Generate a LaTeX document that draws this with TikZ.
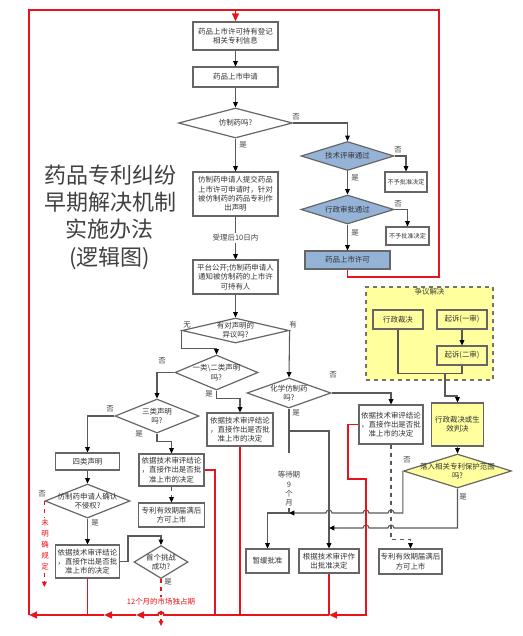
\documentclass[tikz,border=0pt]{standalone}
\usepackage{fontspec}
\setmainfont{Noto Sans CJK SC}
\usetikzlibrary{shapes.geometric,arrows.meta}
\definecolor{blueF}{HTML}{95B3D7}
\definecolor{yelF}{HTML}{FFFF9E}
\definecolor{redL}{HTML}{E8141C}

\begin{document}
\begin{tikzpicture}[x=0.75pt, y=-0.75pt,
  every node/.style={font=\fontsize{5.6}{7}\selectfont, text=black!80},
  sz/.style 2 args={minimum width=#1*0.75pt, minimum height=#2*0.75pt},
  box/.style={draw=black!60, line width=0.9pt, fill=white, align=center, inner sep=0pt},
  smallbox/.style={box, font=\fontsize{4.6}{6}\selectfont},
  bluebox/.style={box, fill=blueF},
  ybox/.style={box, fill=yelF},
  region/.style={draw=black!55, line width=0.9pt, dashed, fill=yelF},
  dia/.style={diamond, draw=black!60, line width=0.9pt, fill=white, inner sep=0pt},
  bluedia/.style={dia, fill=blueF},
  ydia/.style={dia, fill=yelF},
  txt/.style={align=center, inner sep=0pt},
  lab/.style={inner sep=1pt, text=black!75},
  link/.style={draw=black!65, line width=0.8pt},
  arr/.style={link, -{Triangle[length=4pt, width=3.6pt, black]}},
  dasharr/.style={arr, dashed},
  redline/.style={draw=redL, line width=1.4pt},
  redarr/.style={redline, -{Triangle[length=6pt, width=5pt]}},
  reddash/.style={draw=redL, line width=1pt, dashed, -{Triangle[length=4pt, width=3.6pt]}},
  redlab/.style={lab, text=redL, fill=white, align=center}]
  \useasboundingbox (0,0) rectangle (523,636);

  % title
  \node[font=\fontsize{16.5}{20.5}\selectfont, align=center, text=black!75] (title) at (110,217)
    {药品专利纠纷\\早期解决机制\\实施办法\\(逻辑图)};

  % main column
  \node[box, sz={85}{28}] (reg) at (235.5,36) {药品上市许可持有登记\\相关专利信息};
  \node[box, sz={85}{20}] (apply) at (235.5,77) {药品上市申请};
  \node[dia, sz={114}{30}] (generic) at (235.5,123) {};
  \node[txt] (genericT) at (generic) {仿制药吗?};
  \node[box, sz={85}{44}] (declare) at (235.5,194) {仿制药申请人提交药品\\上市许可申请时，针对\\被仿制药的药品专利作\\出声明};
  \node[box, sz={85}{34}] (publish) at (235.5,277) {平台公开;仿制药申请人\\通知被仿制药的上市许\\可持有人};
  \node[dia, sz={107}{25}] (object) at (235.5,330.5) {};
  \node[txt] (objectT) at (object) {有对声明的\\异议吗?};

  % new drug branch
  \node[bluedia, sz={93}{29}] (tech) at (347.5,156) {};
  \node[txt] (techT) at (tech) {技术评审通过};
  \node[smallbox, sz={42}{20}] (rej1) at (406,182) {不予批准决定};
  \node[bluedia, sz={93}{29}] (admin) at (347.5,209.5) {};
  \node[txt] (adminT) at (admin) {行政审批通过};
  \node[smallbox, sz={43}{18}] (rej2) at (407.5,236) {不予批准决定};
  \node[bluebox, sz={85}{18}] (approve) at (347.5,260) {药品上市许可};

  % declarations
  \node[dia, sz={83}{35}] (cls12) at (216.5,372.5) {};
  \node[txt] (cls12T) at (cls12) {一类\textbackslash 二类声明\\吗?};
  \node[dia, sz={84}{34}] (cls3) at (157,416) {};
  \node[txt] (cls3T) at (cls3) {三类声明\\吗?};
  \node[dia, sz={84}{30}] (chem) at (289,393) {};
  \node[txt] (chemT) at (chem) {化学仿制药\\吗?};
  \node[box, sz={64}{17}] (cls4) at (87.5,461.5) {四类声明};
  \node[box, sz={66}{33}] (rev1) at (240,429.5) {依据技术审评结论\\，直接作出是否批\\准上市的决定};
  \node[box, sz={65}{32}] (rev2) at (171.5,470) {依据技术审评结论\\，直接作出是否批\\准上市的决定};
  \node[box, sz={64}{39}] (rev3) at (391,424.5) {依据技术审评结论\\，直接作出是否批\\准上市的决定};
  \node[box, sz={66}{24}] (expire1) at (171.5,515) {专利有效期届满后\\方可上市};
  \node[dia, sz={85}{34}] (confirm) at (87.5,501) {};
  \node[txt] (confirmT) at (confirm) {仿制药申请人确认\\不侵权?};
  \node[box, sz={64}{33}] (rev4) at (87.5,561.5) {依据技术审评结论\\，直接作出是否批\\准上市的决定};
  \node[dia, sz={54}{33}] (first) at (161,562) {};
  \node[txt] (firstT) at (first) {首个挑战\\成功?};
  \node[box, sz={43}{24}] (suspend) at (267.5,561) {暂缓批准};
  \node[box, sz={60}{24}] (grant) at (329,561) {根据技术审评作\\出批准决定};
  \node[box, sz={63}{25}] (expire2) at (410.5,561.5) {专利有效期届满后\\方可上市};

  % dispute settlement
  \node[region, sz={127}{93}] (dispute) at (429.5,333.5) {};
  \node[lab, anchor=north] (disputeT) at (dispute.north) {争议解决};
  \node[ybox, sz={50}{19}] (adjud) at (398,319.5) {行政裁决};
  \node[ybox, sz={50}{19}] (suit1) at (462,319.5) {起诉(一审)};
  \node[ybox, sz={50}{19}] (suit2) at (462,355.5) {起诉(二审)};
  \node[ybox, sz={52}{43}] (ruling) at (457.5,424.5) {行政裁决或生\\效判决};
  \node[ydia, sz={108}{34}] (scope) at (457.5,471) {};
  \node[txt] (scopeT) at (scope) {落入相关专利保护范围\\吗?};

  % yes / no
  \node[lab] (noGeneric) at (296,117) {否};
  \node[lab] (yesGeneric) at (243,145) {是};
  \node[lab] (noTech) at (398,150) {否};
  \node[lab] (yesTech) at (355,178) {是};
  \node[lab] (noAdmin) at (398,204) {否};
  \node[lab] (yesAdmin) at (355,233) {是};
  \node[lab] (none) at (187,325) {无};
  \node[lab] (some) at (293,325) {有};
  \node[lab] (noCls12) at (162,361) {否};
  \node[lab] (yesCls12) at (209,394) {是};
  \node[lab] (noChem) at (333,375) {否};
  \node[lab] (yesChem) at (296,413) {是};
  \node[lab] (noCls3) at (110,409) {否};
  \node[lab] (yesCls3) at (139,434) {是};
  \node[lab] (noScope) at (407,460) {否};
  \node[lab] (yesScope) at (463,497) {是};
  \node[lab] (noConfirm) at (42,494) {否};
  \node[lab] (yesConfirm) at (95,523) {是};
  \node[lab] (yesFirst) at (168,582) {是};

  \coordinate (split) at (289,431);
  \coordinate (join) at (289,513);
  \coordinate (join2) at (329,528);
  \coordinate (merge) at (445,373);
  \coordinate (bend1) at (128,536);
  \coordinate (rbend) at (366,479);
  \coordinate (tl) at (29,10);
  \coordinate (tr) at (439,10);
  \coordinate (bl) at (29,615);
  \coordinate (bus1) at (136,615);
  \coordinate (bus2) at (104,615);

  % gray connectors
  \draw[arr] (reg) -- (apply);
  \draw[arr] (apply) -- (generic);
  \draw[arr] (generic.east) -| (tech.north);
  \draw[arr] (tech) -- (admin);
  \draw[arr] (tech.east) -| (rej1.north);
  \draw[arr] (admin) -- (approve);
  \draw[arr] (admin.east) -| (rej2.north);
  \draw[arr] (generic) -- (declare);
  \draw[arr] (declare) -- node[lab, fill=white] (days) {受理后10日内} (publish);
  \draw[arr] (publish) -- (object);
  \draw[arr] (object.west) -- ++(0,18) -| (cls12.north);
  \draw[arr] (object.east) -- (chem.north);
  \draw[arr] (cls12.west) -| (cls3.north);
  \draw[arr] (cls12.south) -- ++(0,8) -| (rev1.north);
  \draw[arr] (cls3.west) -| (cls4.north);
  \draw[arr] (cls3.south) -- ++(0,8) -| (rev2.north);
  \draw[arr] (chem.east) -| (rev3.north);
  \draw[arr] (chem.south) -- (split) -| (grant.north);
  \node[lab, align=center, anchor=south] (waitT) at (289,508) {等待期\\9\\个\\月};
  \draw[link] (split) -- ++(0,22);
  \draw[arr] (waitT.south) -- (join) -| (suspend.north);
  \draw[arr] (cls4) -- (confirm);
  \draw[arr] (confirm) -- (rev4);
  \draw[arr] (rev4.east) -| (bend1) -| (first.north);
  \draw[dasharr] (rev2) -- (expire1);
  \draw[dasharr] (rev3.south) -- ++(0,95) -| (expire2.north);
  \draw[arr] (suit1) -- (suit2);
  \draw[link] (adjud.south) -- ++(0,44) -| (suit2.south);
  \draw[arr] (merge) -- ++(0,23) -| (ruling.north);
  \draw[arr] (ruling) -- (scope);
  \draw[arr] (scope.west) |- (394,513) arc[start angle=0, end angle=-180, radius=3]
    -- (369,513) arc[start angle=0, end angle=-180, radius=3]
    -- (332,513) arc[start angle=0, end angle=-180, radius=3] -- (join);
  \draw[arr] (scope.south) |- (394,528) arc[start angle=0, end angle=-180, radius=3]
    -- (369,528) arc[start angle=0, end angle=-180, radius=3] -- (join2);

  % red loop
  \draw[redline] (approve.south) -- ++(0,7) -| (tr) -- (tl) -- (bl);
  \draw[redarr] (reg.north |- tl) -- (reg.north);
  \draw[redarr] (rev3.west) -- ++(-10,0) |- (rbend) |- (grant.south |- bl);
  \draw[redline] (grant.south) -- (grant.south |- bl);
  \draw[redarr] (grant.south |- bl) -- (164,615) arc[start angle=0, end angle=-180, radius=3] -- (bus1);
  \draw[redline] (rev1.south) -- (rev1.south |- bl);
  \draw[redline] (rev2.east) -- ++(10,0) -- ++(0,145);
  \draw[redline] (rev4.south) -- (rev4.south |- bl);
  \draw[redarr] (bus1) -- (bus2);
  \draw[redarr] (bus2) -- (bl);
  \draw[reddash] (confirm.west) -- ++(0,86);
  \node[redlab, font=\fontsize{5.6}{8.25}\selectfont] (undef) at (45,545) {未\\明\\确\\规\\定};
  \draw[reddash] (first.south) -- ++(0,47);
  \node[redlab] (monopoly) at (161,602) {12个月的市场独占期};
\end{tikzpicture}
\end{document}
